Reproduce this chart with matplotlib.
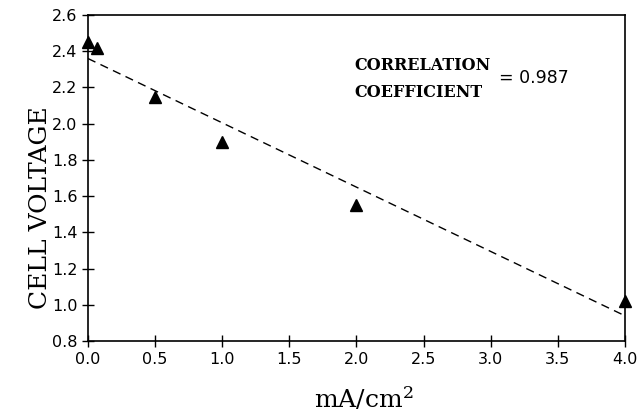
import matplotlib
matplotlib.use('Agg')
import matplotlib.pyplot as plt

current = [0.0, 0.07, 0.5, 1.0, 2.0, 4.0]      # mA/cm^2
voltage = [2.45, 2.42, 2.15, 1.90, 1.55, 1.02]  # V

# Least-squares line, end points
fit_x = [0.0, 4.0]
fit_y = [2.36, 0.94]

corr = 0.987

xticks = [0.0, 0.5, 1.0, 1.5, 2.0, 2.5, 3.0, 3.5, 4.0]
yticks = [0.8, 1.0, 1.2, 1.4, 1.6, 1.8, 2.0, 2.2, 2.4, 2.6]

plt.rcParams['mathtext.fontset'] = 'dejavuserif'

fig = plt.figure(figsize=(6.37, 4.17), dpi=100)
ax = fig.add_axes([0.138, 0.182, 0.843, 0.782])

ax.plot(fit_x, fit_y, linestyle=(0, (6, 4)), color='black', linewidth=1.0)
ax.plot(current, voltage, linestyle='none', marker='^', color='black',
        markersize=9, clip_on=False, zorder=3)

# ---------- axes ----------
ax.set_xlim(0, 4.0)
ax.set_ylim(0.8, 2.6)
ax.set_xticks(xticks)
ax.set_yticks(yticks)
ax.set_xticklabels([f'{t:.1f}' for t in xticks])
ax.set_yticklabels([f'{t:.1f}' for t in yticks])
ax.tick_params(which='major', direction='inout', length=9, width=1,
               labelsize=11.5, pad=3)
for s in ax.spines.values():
    s.set_linewidth(1.2)

ax.set_xlabel('mA/cm$^2$', family='DejaVu Serif', fontsize=18)
ax.xaxis.set_label_coords(0.514, -0.135)
ax.xaxis.label.set_va('top')
ax.set_ylabel('CELL VOLTAGE', family='DejaVu Serif', fontsize=18)
ax.yaxis.set_label_coords(-0.066, 0.41)

# correlation note
ax.text(1.985, 2.324, 'CORRELATION', family='DejaVu Serif', weight='bold',
        fontsize=11.5, va='center', ha='left')
ax.text(1.985, 2.175, 'COEFFICIENT', family='DejaVu Serif', weight='bold',
        fontsize=11.5, va='center', ha='left')
ax.text(3.06, 2.252, f'= {corr}', fontsize=12.5, va='center', ha='left')

fig.savefig('out.png', dpi=100)
